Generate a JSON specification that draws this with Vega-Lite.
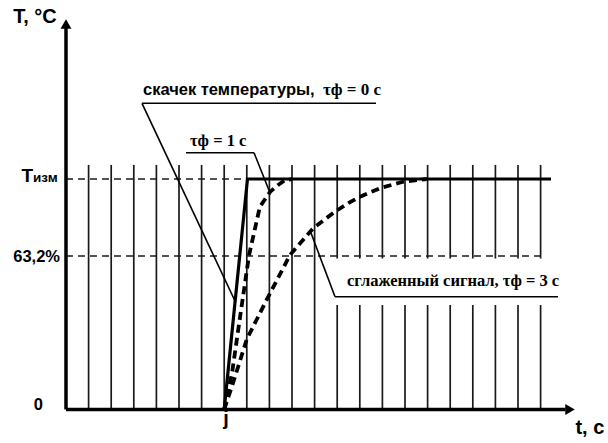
{
  "$schema": "https://vega.github.io/schema/vega-lite/v6.json",
  "width": 608,
  "height": 443,
  "padding": 0,
  "autosize": {"type": "none"},
  "background": "white",
  "config": {"view": {"stroke": null}},
  "datasets": {
    "grid": [
      {"t": 1, "v": 0, "v2": 1.061}, {"t": 2, "v": 0, "v2": 1.061}, {"t": 3, "v": 0, "v2": 1.061},
      {"t": 4, "v": 0, "v2": 1.061}, {"t": 5, "v": 0, "v2": 1.061}, {"t": 6, "v": 0, "v2": 1.061},
      {"t": 7, "v": 0, "v2": 1.061}, {"t": 8, "v": 0, "v2": 1.061}, {"t": 9, "v": 0, "v2": 1.061},
      {"t": 10, "v": 0, "v2": 1.061}, {"t": 11, "v": 0, "v2": 1.061}, {"t": 12, "v": 0, "v2": 1.061},
      {"t": 13, "v": 0, "v2": 1.061}, {"t": 14, "v": 0, "v2": 1.061}, {"t": 15, "v": 0, "v2": 1.061},
      {"t": 16, "v": 0, "v2": 1.061}, {"t": 17, "v": 0, "v2": 1.061}, {"t": 18, "v": 0, "v2": 1.061},
      {"t": 19, "v": 0, "v2": 1.061}, {"t": 20, "v": 0, "v2": 1.061}, {"t": 21, "v": 0, "v2": 1.061}
    ],
    "guides": [
      {"t": 0, "t2": 21, "v": 1},
      {"t": 0, "t2": 21, "v": 0.666}
    ],
    "box": [
      {"t": 11.9, "t2": 21.86, "v": 0.655, "v2": 0.453}
    ],
    "axes": [
      {"t": 0, "t2": 0, "v": 0, "v2": 1.655},
      {"t": 0, "t2": 22.1, "v": 0, "v2": 0}
    ],
    "arrows": [
      {"t": 0, "v": 1.672, "shape": "triangle-up"},
      {"t": 22.3, "v": 0, "shape": "triangle-right"}
    ],
    "step": [
      {"t": 7.0, "v": 0},
      {"t": 8.03, "v": 1},
      {"t": 21.46, "v": 1}
    ],
    "tau1": [
      {"t": 7.0, "v": 0},
      {"t": 7.35, "v": 0.16},
      {"t": 7.7, "v": 0.4},
      {"t": 8.1, "v": 0.67},
      {"t": 8.58, "v": 0.88},
      {"t": 9.03, "v": 0.944},
      {"t": 9.4, "v": 0.975},
      {"t": 9.69, "v": 0.995},
      {"t": 10.0, "v": 1.0}
    ],
    "tau3": [
      {"t": 7.0, "v": 0},
      {"t": 7.39, "v": 0.115},
      {"t": 8.0, "v": 0.305},
      {"t": 8.9, "v": 0.48},
      {"t": 9.91, "v": 0.67},
      {"t": 10.94, "v": 0.787},
      {"t": 11.9, "v": 0.858},
      {"t": 12.57, "v": 0.9},
      {"t": 13.01, "v": 0.923},
      {"t": 13.89, "v": 0.96},
      {"t": 14.91, "v": 0.988},
      {"t": 15.96, "v": 1.0}
    ],
    "leaders": [
      {"t": 3.363, "v": 1.3284, "t2": 13.717, "v2": 1.3284},
      {"t": 3.363, "v": 1.3284, "t2": 7.478, "v2": 0.4707},
      {"t": 5.31, "v": 1.1141, "t2": 8.319, "v2": 1.1141},
      {"t": 8.319, "v": 1.1141, "t2": 9.004, "v2": 0.9458},
      {"t": 11.903, "v": 0.4894, "t2": 21.77, "v2": 0.4894},
      {"t": 11.903, "v": 0.4894, "t2": 10.841, "v2": 0.7657}
    ],
    "labelsRight": [
      {"t": -0.265, "v": 0.6399, "label": "63,2%"},
      {"t": -1.018, "v": -0.0022, "label": "0"}
    ],
    "labelsCenter": [
      {"t": -1.372, "v": 1.6768, "label": "T, °C"},
      {"t": 7.08, "v": -0.0672, "label": "j"},
      {"t": 23.18, "v": -0.1063, "label": "t, c"}
    ],
    "bigT": [
      {"t": -1.46, "v": 0.9883, "label": "T"}
    ],
    "subT": [
      {"t": -1.46, "v": 0.9883, "label": "изм"}
    ],
    "sansNote": [
      {"t": 3.407, "v": 1.3645, "label": "скачек температуры,"}
    ],
    "serifRight": [
      {"t": 13.938, "v": 1.3645, "label": "τф = 0 с"}
    ],
    "serifLeft": [
      {"t": 5.487, "v": 1.1432, "label": "τф = 1 с"},
      {"t": 12.434, "v": 0.5358, "label": "сглаженный сигнал, τф = 3 с"}
    ]
  },
  "encoding": {
    "x": {"field": "t", "type": "quantitative", "scale": {"domain": [-2.92, 23.982], "nice": false, "zero": false}, "axis": null},
    "y": {"field": "v", "type": "quantitative", "scale": {"domain": [-0.1453, 1.7766], "nice": false, "zero": false}, "axis": null}
  },
  "layer": [
    {
      "data": {"name": "grid"},
      "mark": {"type": "rule", "color": "#1a1a1a", "strokeWidth": 1.7},
      "encoding": {"y2": {"field": "v2"}}
    },
    {
      "data": {"name": "guides"},
      "mark": {"type": "rule", "color": "#1a1a1a", "strokeWidth": 1.5, "strokeDash": [7, 5]},
      "encoding": {"x2": {"field": "t2"}}
    },
    {
      "data": {"name": "box"},
      "mark": {"type": "rect", "fill": "white", "stroke": null},
      "encoding": {"x2": {"field": "t2"}, "y2": {"field": "v2"}}
    },
    {
      "data": {"name": "leaders"},
      "mark": {"type": "rule", "color": "black", "strokeWidth": 1.6},
      "encoding": {"x2": {"field": "t2"}, "y2": {"field": "v2"}}
    },
    {
      "data": {"name": "tau3"},
      "mark": {"type": "line", "color": "black", "strokeWidth": 3.8, "strokeDash": [8, 5], "strokeCap": "butt"},
      "encoding": {}
    },
    {
      "data": {"name": "tau1"},
      "mark": {"type": "line", "color": "black", "strokeWidth": 3.8, "strokeDash": [8, 5], "strokeCap": "butt"},
      "encoding": {}
    },
    {
      "data": {"name": "step"},
      "mark": {"type": "line", "color": "black", "strokeWidth": 3.2, "strokeJoin": "miter"},
      "encoding": {}
    },
    {
      "data": {"name": "axes"},
      "mark": {"type": "rule", "color": "black", "strokeWidth": 3.5},
      "encoding": {"x2": {"field": "t2"}, "y2": {"field": "v2"}}
    },
    {
      "data": {"name": "arrows"},
      "mark": {"type": "point", "filled": true, "color": "black", "opacity": 1, "size": 120},
      "encoding": {"shape": {"field": "shape", "type": "nominal", "scale": null}}
    },
    {
      "data": {"name": "labelsRight"},
      "mark": {"type": "text", "align": "right", "baseline": "alphabetic", "font": "Arial, Liberation Sans, sans-serif", "fontWeight": 700, "fontSize": 16.5, "color": "black"},
      "encoding": {"text": {"field": "label"}}
    },
    {
      "data": {"name": "labelsCenter"},
      "mark": {"type": "text", "align": "center", "baseline": "alphabetic", "font": "Arial, Liberation Sans, sans-serif", "fontWeight": 700, "fontSize": 20, "color": "black"},
      "encoding": {"text": {"field": "label"}}
    },
    {
      "data": {"name": "bigT"},
      "mark": {"type": "text", "align": "right", "baseline": "alphabetic", "font": "Arial, Liberation Sans, sans-serif", "fontWeight": 700, "fontSize": 19, "color": "black"},
      "encoding": {"text": {"field": "label"}}
    },
    {
      "data": {"name": "subT"},
      "mark": {"type": "text", "align": "left", "baseline": "alphabetic", "font": "Arial, Liberation Sans, sans-serif", "fontWeight": 700, "fontSize": 13.5, "color": "black"},
      "encoding": {"text": {"field": "label"}}
    },
    {
      "data": {"name": "sansNote"},
      "mark": {"type": "text", "align": "left", "baseline": "alphabetic", "font": "Arial, Liberation Sans, sans-serif", "fontWeight": 700, "fontSize": 16.5, "color": "black"},
      "encoding": {"text": {"field": "label"}}
    },
    {
      "data": {"name": "serifRight"},
      "mark": {"type": "text", "align": "right", "baseline": "alphabetic", "font": "Times New Roman, Liberation Serif, DejaVu Serif, serif", "fontWeight": 700, "fontSize": 17, "color": "black"},
      "encoding": {"text": {"field": "label"}}
    },
    {
      "data": {"name": "serifLeft"},
      "mark": {"type": "text", "align": "left", "baseline": "alphabetic", "font": "Times New Roman, Liberation Serif, DejaVu Serif, serif", "fontWeight": 700, "fontSize": 16.5, "color": "black"},
      "encoding": {"text": {"field": "label"}}
    }
  ]
}
